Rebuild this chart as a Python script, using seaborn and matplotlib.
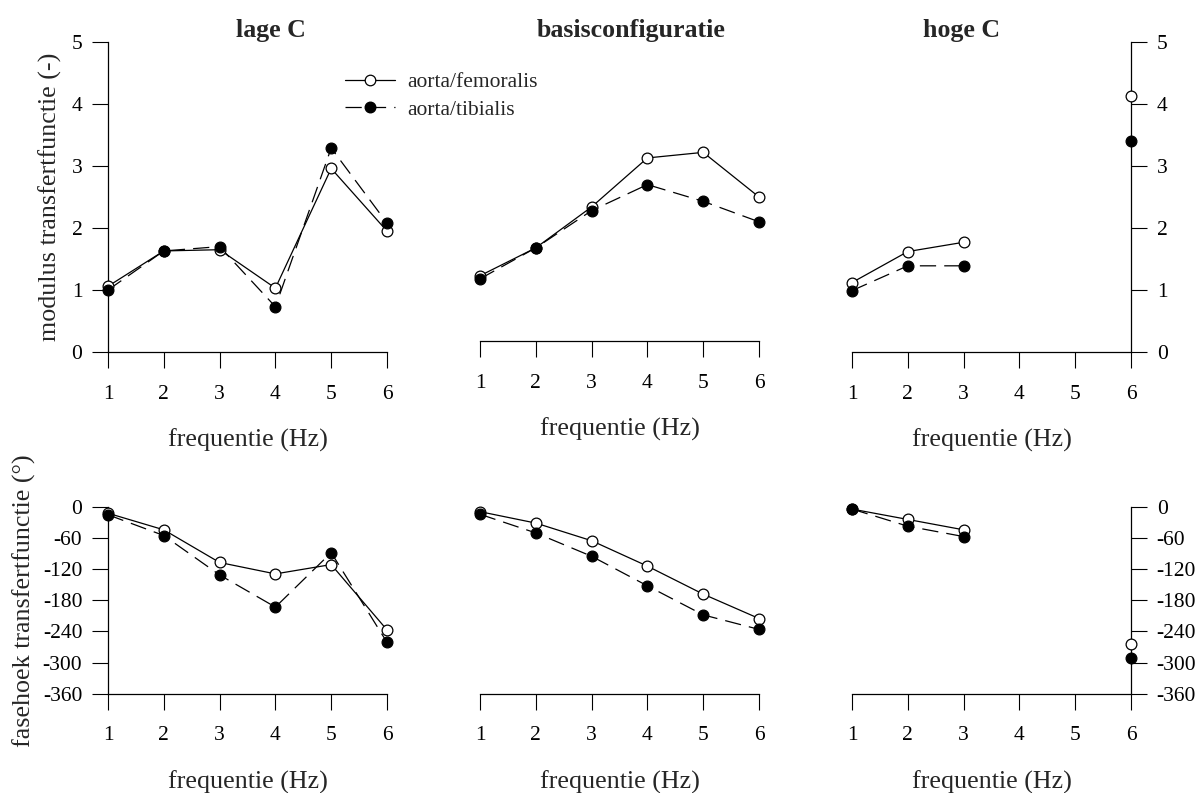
import numpy as np
import pandas as pd
import matplotlib
matplotlib.use("Agg")
import matplotlib.pyplot as plt
import seaborn as sns
from matplotlib.lines import Line2D

# ---------------------------------------------------------------- data
freq = [1, 2, 3, 4, 5, 6]
configs = ["lage C", "basisconfiguratie", "hoge C"]
series_names = ["aorta/femoralis", "aorta/tibialis"]

mod_lage_fem = [1.06, 1.63, 1.65, 1.03, 2.96, 1.95]
mod_lage_tib = [1.00, 1.63, 1.70, 0.73, 3.29, 2.08]
mod_basis_fem = [1.23, 1.68, 2.34, 3.13, 3.22, 2.50]
mod_basis_tib = [1.18, 1.68, 2.28, 2.70, 2.43, 2.10]
mod_hoog_fem = [1.12, 1.62, 1.77, np.nan, np.nan, 4.13]
mod_hoog_tib = [0.99, 1.39, 1.39, np.nan, np.nan, 3.41]

phase_lage_fem = [-12, -44, -107, -129, -111, -237]
phase_lage_tib = [-15, -55, -131, -193, -88, -261]
phase_basis_fem = [-9, -31, -65, -114, -168, -215]
phase_basis_tib = [-14, -50, -95, -152, -208, -236]
phase_hoog_fem = [-4, -24, -44, np.nan, np.nan, -265]
phase_hoog_tib = [-4, -37, -57, np.nan, np.nan, -292]

mod_ticks = [0, 1, 2, 3, 4, 5]
phase_ticks = [-360, -300, -240, -180, -120, -60, 0]

values = {
    ("mod", 0): (mod_lage_fem, mod_lage_tib),
    ("mod", 1): (mod_basis_fem, mod_basis_tib),
    ("mod", 2): (mod_hoog_fem, mod_hoog_tib),
    ("phase", 0): (phase_lage_fem, phase_lage_tib),
    ("phase", 1): (phase_basis_fem, phase_basis_tib),
    ("phase", 2): (phase_hoog_fem, phase_hoog_tib),
}

# long table; "seg" splits a series wherever a value is missing
records = []
for (qty, col), pair in values.items():
    for name, vals in zip(series_names, pair):
        seg = 0
        for f, v in zip(freq, vals):
            if np.isnan(v):
                seg += 1
                continue
            records.append(dict(qty=qty, col=col, series=name, freq=f, val=v, seg=seg))
df = pd.DataFrame(records)

# ---------------------------------------------------------------- style
sns.set_theme(style="ticks")
plt.rcParams["font.family"] = ["Liberation Serif", "DejaVu Serif"]
plt.rcParams["axes.edgecolor"] = "black"
plt.rcParams["axes.linewidth"] = 0.9

TICK_FS = 15.5
LABEL_FS = 18.7
TITLE_FS = 18.6
LW = 0.9
MS_AREA = 60
DASH = (0, (13, 6.5))

W, H = 1198, 793
fig = plt.figure(figsize=(W / 100, H / 100), dpi=100)


def rect(x0, x1, y_top, y_bot):
    return [x0 / W, 1 - y_bot / H, (x1 - x0) / W, (y_bot - y_top) / H]


cols_px = [(108, 387), (480, 759), (852, 1131)]
rows_px = {"mod": (42, 352), "phase": (507, 693.7)}

axes = {}
for qty in ["mod", "phase"]:
    for col in range(3):
        ax = fig.add_axes(rect(*cols_px[col], *rows_px[qty]))
        axes[(qty, col)] = ax
        sub = df[(df.qty == qty) & (df.col == col)]
        for name in series_names:
            d = sub[sub.series == name]
            ls = "-" if name == series_names[0] else DASH
            face = "white" if name == series_names[0] else "black"
            sns.lineplot(data=d, x="freq", y="val", units="seg", estimator=None,
                         color="black", linewidth=LW, linestyle=ls, ax=ax,
                         legend=False, zorder=2)
            sns.scatterplot(data=d, x="freq", y="val", marker="o", s=MS_AREA,
                            color=face, edgecolor="black", linewidth=LW, ax=ax,
                            legend=False, zorder=3, clip_on=False)

        ax.set_xlim(1, 6)
        ax.set_xticks(freq)
        ax.set_xticklabels([str(f) for f in freq])
        if qty == "mod":
            ax.set_ylim(0, 5)
            ax.set_yticks(mod_ticks)
            ax.set_yticklabels([str(t) for t in mod_ticks])
        else:
            ax.set_ylim(-360, 0)
            ax.set_yticks(phase_ticks)
            ax.set_yticklabels([str(t) for t in phase_ticks])

        ax.patch.set_alpha(0)
        ax.spines["top"].set_visible(False)
        ax.tick_params(direction="out", length=11.5, width=0.8, labelsize=TICK_FS,
                       colors="black", pad=7)
        ax.tick_params(axis="x", pad=12)
        ax.set_xlabel("frequentie (Hz)", fontsize=LABEL_FS, labelpad=18)
        ax.set_ylabel("")

        if col == 0:
            ax.spines["right"].set_visible(False)
        elif col == 1:
            ax.spines["left"].set_visible(False)
            ax.spines["right"].set_visible(False)
            ax.tick_params(axis="y", left=False, labelleft=False)
            if qty == "mod":
                ax.spines["bottom"].set_position(("outward", -8))
        else:
            ax.spines["left"].set_visible(False)
            ax.yaxis.tick_right()
            ax.tick_params(axis="y", right=True, labelright=True, pad=7)

axes[("mod", 0)].set_ylabel("modulus transfertfunctie (-)", fontsize=LABEL_FS, labelpad=7)
axes[("phase", 0)].set_ylabel("fasehoek transfertfunctie (°)", fontsize=LABEL_FS, labelpad=5)

# column titles
for cx, title in zip([271, 631, 962], configs):
    fig.text(cx / W, 1 - 37 / H, title, ha="center", va="baseline",
             fontsize=TITLE_FS, fontweight="bold")

# legend
handles = [
    Line2D([], [], color="black", lw=LW, marker="o", ms=7.6, mfc="white", mec="black", mew=LW),
    Line2D([], [], color="black", lw=LW, ls=DASH, marker="o", ms=7.6, mfc="black", mec="black"),
]
axes[("mod", 0)].legend(handles, series_names, loc="upper left",
                        bbox_to_anchor=(345 / W, 1 - 72 / H), bbox_transform=fig.transFigure,
                        frameon=False, fontsize=TICK_FS, handlelength=2.33,
                        handletextpad=0.55, labelspacing=0.36, borderpad=0,
                        borderaxespad=0)

fig.savefig("out.png", dpi=100)
